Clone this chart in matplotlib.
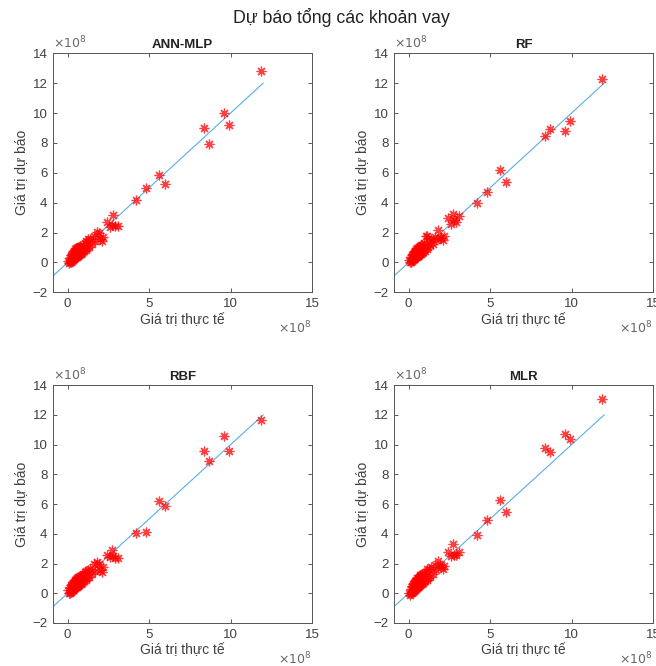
import numpy as np
import matplotlib
matplotlib.use("Agg")
import matplotlib.pyplot as plt

plt.rcParams['font.family'] = ['Liberation Sans', 'DejaVu Sans']

# values in units of 1e8
actual = [0.05, 0.1, 0.12, 0.15, 0.18, 0.2, 0.22, 0.25, 0.28, 0.3, 0.32, 0.35, 0.38, 0.4,
          0.42, 0.45, 0.48, 0.5, 0.52, 0.55, 0.58, 0.6, 0.62, 0.65, 0.68, 0.7, 0.72, 0.75,
          0.78, 0.8, 0.85, 0.9, 0.95, 1.0, 1.05, 1.1, 1.15, 1.2, 1.25, 1.3, 1.4, 1.5, 1.6,
          1.7, 1.8, 1.9, 2.0, 2.1, 2.2, 2.4, 2.6, 2.7, 2.8, 2.9, 3.1,
          4.2, 4.8, 5.6, 5.95, 8.4, 8.7, 9.6, 9.9, 11.9]

pred_ann = [0.1, -0.05, 0.3, 0.0, 0.4, 0.05, 0.5, 0.1, 0.6, 0.15, 0.65, 0.2, 0.75, 0.25,
            0.8, 0.3, 0.9, 0.35, 0.95, 0.4, 1.0, 0.45, 1.05, 0.45, 1.05, 0.5, 0.95, 0.55,
            1.1, 0.6, 1.0, 0.65, 1.15, 0.75, 1.3, 0.85, 1.45, 0.95, 1.55, 1.05, 1.6, 1.25, 1.8,
            1.45, 2.05, 1.95, 1.6, 1.45, 1.7, 2.7, 2.4, 2.5, 3.15, 2.45, 2.45,
            4.15, 5.0, 5.85, 5.25, 9.0, 7.9, 10.0, 9.2, 12.8]

pred_rf = [0.15, 0.0, 0.35, 0.05, 0.4, 0.1, 0.5, 0.15, 0.6, 0.2, 0.65, 0.25, 0.75, 0.3,
           0.8, 0.35, 0.9, 0.4, 0.95, 0.45, 1.0, 0.45, 1.05, 0.5, 1.0, 0.55, 1.1, 0.6,
           1.15, 0.65, 1.2, 0.7, 1.3, 0.8, 1.75, 0.9, 1.75, 1.05, 1.45, 1.15, 1.6, 1.25, 1.7,
           1.5, 2.2, 1.65, 1.65, 1.5, 1.8, 3.0, 2.6, 3.25, 2.85, 2.7, 3.1,
           3.95, 4.7, 6.2, 5.4, 8.45, 8.95, 8.8, 9.45, 12.3]

pred_rbf = [0.2, 0.0, 0.35, 0.05, 0.45, 0.1, 0.55, 0.15, 0.65, 0.2, 0.7, 0.25, 0.75, 0.3,
            0.85, 0.35, 0.9, 0.4, 0.95, 0.45, 1.05, 0.5, 1.1, 0.5, 1.1, 0.55, 1.0, 0.6,
            1.15, 0.65, 1.2, 0.7, 1.3, 0.8, 1.4, 0.9, 1.5, 1.0, 1.55, 1.1, 1.65, 1.3, 1.95,
            1.5, 2.1, 1.95, 1.55, 1.4, 1.75, 2.55, 2.45, 2.9, 2.5, 2.35, 2.35,
            4.05, 4.15, 6.2, 5.9, 9.6, 8.9, 10.6, 9.6, 11.65]

pred_mlr = [0.05, -0.1, 0.3, 0.0, 0.4, 0.05, 0.5, 0.1, 0.6, 0.15, 0.7, 0.2, 0.75, 0.25,
            0.85, 0.3, 0.9, 0.35, 1.0, 0.4, 1.05, 0.45, 1.1, 0.5, 1.15, 0.55, 1.2, 0.6,
            1.25, 0.65, 1.3, 0.7, 1.35, 0.8, 1.45, 0.9, 1.6, 1.0, 1.65, 1.1, 1.8, 1.3, 1.9,
            1.55, 2.2, 1.9, 1.75, 1.6, 1.85, 2.8, 2.5, 3.3, 2.6, 2.55, 2.8,
            3.9, 4.9, 6.3, 5.45, 9.75, 9.5, 10.7, 10.35, 13.05]

models = ['ANN-MLP', 'RF', 'RBF', 'MLR']
preds = [pred_ann, pred_rf, pred_rbf, pred_mlr]
fit_x = [-1, 12]

fig = plt.figure(figsize=(6.56, 6.66), dpi=100)
W = 0.3948
pos = [(0.0808, 0.561, W, 0.359), (0.6006, 0.561, W, 0.359),
       (0.0808, 0.0646, W, 0.357), (0.6006, 0.0646, W, 0.357)]

txt = '#404040'
for p, name, pr in zip(pos, models, preds):
    ax = fig.add_axes(p)
    ax.plot(fit_x, fit_x, color='#5aaee0', lw=0.8, zorder=1)
    ax.plot(actual, pr, ls='none', marker=(8, 2, 0), ms=7, mew=0.9, color='red',
            alpha=0.75, zorder=2)
    ax.set_xlim(-0.9, 15)
    ax.set_ylim(-2, 14)
    ax.set_xticks([0, 5, 10, 15])
    ax.set_yticks(np.arange(-2, 15, 2))
    ax.tick_params(direction='in', top=True, right=True, length=3, width=0.6,
                   labelsize=9.5, colors=txt, labelcolor=txt, pad=4)
    for s in ax.spines.values():
        s.set_color('#555555')
        s.set_linewidth(0.7)
    ax.set_title(name, fontsize=9.5, fontweight='bold', color='#222222', pad=4)
    ax.set_xlabel('Giá trị thực tế', fontsize=10, color=txt, labelpad=2)
    ax.set_ylabel('Giá trị dự báo', fontsize=10, color=txt, labelpad=3)
    ax.text(0.0, 1.01, r'$\times10^{8}$', transform=ax.transAxes, fontsize=9,
            color='#666666', ha='left', va='bottom')
    ax.text(1.0, -0.115, r'$\times10^{8}$', transform=ax.transAxes, fontsize=9,
            color='#666666', ha='right', va='top')

fig.text(0.52, 0.973, 'Dự báo tổng các khoản vay', ha='center', va='center',
         fontsize=12.8, color='#222222')

fig.savefig('out.png', dpi=100)
